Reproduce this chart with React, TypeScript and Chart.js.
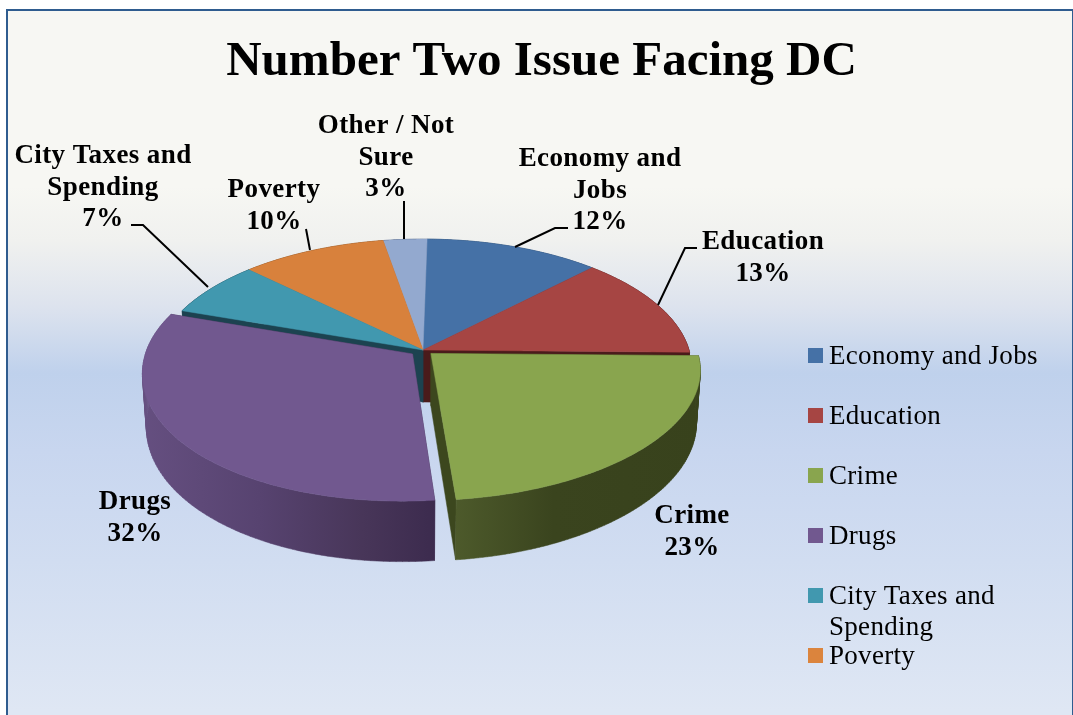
import React, { useEffect, useRef } from "react";
import { Chart, registerables } from "chart.js";

Chart.register(...registerables);

// ---- data ----
const categories = ["Economy and Jobs", "Education", "Crime", "Drugs", "City Taxes and Spending", "Poverty", "Other / Not Sure"];
const shares = [12, 13, 23, 32, 7, 10, 3];
const titleText = "Number Two Issue Facing DC";
const labelLines = [["Economy and", "Jobs"], ["Education"], ["Crime"], ["Drugs"], ["City Taxes and", "Spending"], ["Poverty"], ["Other / Not", "Sure"]];
const legendLines = [["Economy and Jobs"], ["Education"], ["Crime"], ["Drugs"], ["City Taxes and", "Spending"], ["Poverty"]];

// ---- styles ----
const topColors = ["#4571a6", "#a64543", "#89a54e", "#71588f", "#4198af", "#d8813c", "#93a9cf"];
const legendColors = ["#4571a6", "#a64543", "#89a54e", "#71588f", "#4198af", "#db843d"];
const wallColors = ["#25405f", "#4a1b1b", "#3c471e", "#3e2c4f", "#1c4350", "#6d4016", "#4c5a75"];
const explodePx = [0, 0, 12, 15, 0, 0, 0];
const FONT = '"Liberation Serif"';

// ---- layout of the 3D projection and of the texts ----
const VIEW = { cx: 423, cy: 350, rx: 266, ry: 126, k: 0.136, depth: 52, drift: 9, shrink: 0.014 };
const labelPos = [
  { x: 600, y: 166 }, { x: 763, y: 249 }, { x: 692, y: 523 }, { x: 135, y: 509 },
  { x: 103, y: 163 }, { x: 274, y: 197 }, { x: 386, y: 133 },
];
const leaders: number[][][] = [
  [[568, 228], [555, 228], [515, 247]],
  [[697, 248], [685, 248], [658, 305]],
  [],
  [],
  [[131, 225], [143, 225], [208, 287]],
  [[306, 229], [310, 250]],
  [[404, 201], [404, 239]],
];
const LABEL_LEADING = 31.5;
const LEGEND = { boxX: 808, box: 15, boxBase: 363, textX: 829, firstBaseline: 364, step: 60, leading: 31 };

function project(u: number, v: number, z: number) {
  const w = 1 - VIEW.k * v;
  return {
    x: VIEW.cx + ((VIEW.rx * u) / w) * (1 - VIEW.shrink * z) - VIEW.drift * Math.max(0, v) * Math.max(0, v),
    y: VIEW.cy + (VIEW.ry * v + VIEW.depth * z) / w,
  };
}

function fillPoly(ctx: CanvasRenderingContext2D, pts: { x: number; y: number }[], fill: any) {
  ctx.beginPath();
  pts.forEach((p, i) => (i ? ctx.lineTo(p.x, p.y) : ctx.moveTo(p.x, p.y)));
  ctx.closePath();
  ctx.fillStyle = fill;
  ctx.fill();
  ctx.strokeStyle = fill;
  ctx.lineWidth = 0.5;
  ctx.stroke();
}

// the outer wall as a strip of quads, so that its silhouette stays closed at the extremes
function fillBand(ctx: CanvasRenderingContext2D, top: any[], bot: any[], fill: any) {
  ctx.beginPath();
  for (let i = 0; i < top.length - 1; i++) {
    ctx.moveTo(top[i].x, top[i].y);
    ctx.lineTo(top[i + 1].x, top[i + 1].y);
    ctx.lineTo(bot[i + 1].x, bot[i + 1].y);
    ctx.lineTo(bot[i].x, bot[i].y);
    ctx.closePath();
  }
  ctx.fillStyle = fill;
  ctx.strokeStyle = fill;
  ctx.lineWidth = 0.5;
  ctx.fill("nonzero");
  ctx.stroke();
}

function wallFill(ctx: CanvasRenderingContext2D, i: number) {
  if (i === 3) {
    const g = ctx.createLinearGradient(143, 0, 435, 0);
    g.addColorStop(0, "#654f80");
    g.addColorStop(0.4, "#574370");
    g.addColorStop(0.75, "#483659");
    g.addColorStop(1, "#3c2b4e");
    return g;
  }
  if (i === 2) {
    const g = ctx.createLinearGradient(455, 0, 700, 0);
    g.addColorStop(0, "#4d5a2b");
    g.addColorStop(0.4, "#3a441e");
    g.addColorStop(1, "#38421c");
    return g;
  }
  return wallColors[i];
}

const pie3d = {
  id: "pie3d",
  beforeDatasetsDraw(chart: any) {
    const ctx: CanvasRenderingContext2D = chart.ctx;
    const arcs = chart.getDatasetMeta(0).data;
    const geo = arcs.map((a: any) => {
      const mid = (a.startAngle + a.endAngle) / 2;
      const off = (a.options.offset || 0) / a.outerRadius;
      const ou = Math.cos(mid) * off;
      const ov = Math.sin(mid) * off;
      const n = 96;
      const rim: { u: number; v: number }[] = [];
      for (let s = 0; s <= n; s++) {
        const t = a.startAngle + ((a.endAngle - a.startAngle) * s) / n;
        rim.push({ u: ou + Math.cos(t), v: ov + Math.sin(t) });
      }
      return { ou, ov, rim };
    });
    const drawSlice = (i: number) => {
      const { ou, ov, rim } = geo[i];
      const at = (z: number) => rim.map((p: any) => project(p.u, p.v, z));
      const apexTop = project(ou, ov, 0);
      const apexBot = project(ou, ov, 1);
      const top = at(0);
      const bot = at(1);
      fillPoly(ctx, [apexTop, top[0], bot[0], apexBot], wallColors[i]);
      fillPoly(ctx, [apexTop, top[top.length - 1], bot[bot.length - 1], apexBot], wallColors[i]);
      fillBand(ctx, top, bot, wallFill(ctx, i));
    };
    const drawTop = (i: number) => {
      const { ou, ov, rim } = geo[i];
      fillPoly(ctx, [project(ou, ov, 0), ...rim.map((p: any) => project(p.u, p.v, 0))], topColors[i]);
    };
    [0, 6, 5, 1, 4].forEach(drawSlice);
    [0, 6, 5, 1, 4].forEach(drawTop);
    [3, 2].forEach((i) => {
      drawSlice(i);
      drawTop(i);
    });
    return false;
  },
  afterDraw(chart: any) {
    const ctx: CanvasRenderingContext2D = chart.ctx;
    ctx.save();
    // leader lines
    ctx.strokeStyle = "#000";
    ctx.lineWidth = 2;
    leaders.forEach((pts) => {
      if (!pts.length) return;
      ctx.beginPath();
      pts.forEach(([x, y], i) => (i ? ctx.lineTo(x, y) : ctx.moveTo(x, y)));
      ctx.stroke();
    });
    // data labels
    ctx.fillStyle = "#000";
    ctx.textAlign = "center";
    ctx.textBaseline = "alphabetic";
    ctx.font = `bold 27px ${FONT}`;
    (ctx as any).letterSpacing = "0.4px";
    categories.forEach((_, i) => {
      const lines = [...labelLines[i], `${shares[i]}%`];
      lines.forEach((t, j) => ctx.fillText(t, labelPos[i].x, labelPos[i].y + j * LABEL_LEADING));
    });
    // legend
    ctx.textAlign = "left";
    ctx.font = `27px ${FONT}`;
    (ctx as any).letterSpacing = "0.3px";
    legendLines.forEach((lines, i) => {
      const base = LEGEND.firstBaseline + i * LEGEND.step;
      ctx.fillStyle = legendColors[i];
      ctx.fillRect(LEGEND.boxX, LEGEND.boxBase + i * LEGEND.step - LEGEND.box, LEGEND.box, LEGEND.box);
      ctx.fillStyle = "#000";
      lines.forEach((t, j) => ctx.fillText(t, LEGEND.textX, base + j * LEGEND.leading));
    });
    ctx.restore();
  },
};

export default function App() {
  const ref = useRef<HTMLCanvasElement>(null);
  useEffect(() => {
    document.body.style.margin = "0";
    const chart = new Chart(ref.current!, {
      type: "pie",
      data: {
        labels: categories,
        datasets: [{ data: shares, backgroundColor: topColors, offset: explodePx, borderWidth: 0 }],
      },
      options: {
        responsive: false,
        animation: false,
        rotation: 1,
        layout: { padding: { left: 10, right: 0, top: 0, bottom: 0 } },
        plugins: {
          legend: { display: false },
          tooltip: { enabled: false },
          title: {
            display: true,
            text: titleText,
            color: "#000",
            font: { family: FONT, size: 49, weight: "bold" },
            padding: { top: 33, bottom: 10 },
          },
        },
      },
      plugins: [pie3d],
    } as any);
    return () => chart.destroy();
  }, []);
  return (
    <div style={{ position: "fixed", left: 0, top: 0, width: 1073, height: 715, overflow: "hidden", background: "#fff" }}>
      <div
        style={{
          position: "absolute",
          left: 6,
          top: 9,
          width: 1064,
          height: 740,
          border: "2px solid #2f5c8f",
          background:
            "linear-gradient(to bottom, #f7f7f3 0px, #f7f7f3 175px, #f0f1ef 230px, #dde3ee 295px, #bfd1ec 362px, #c8d6ef 440px, #d1ddf1 550px, #dfe7f4 700px)",
        }}
      />
      <canvas ref={ref} width={1073} height={715} style={{ position: "absolute", left: 0, top: 0 }} />
    </div>
  );
}
